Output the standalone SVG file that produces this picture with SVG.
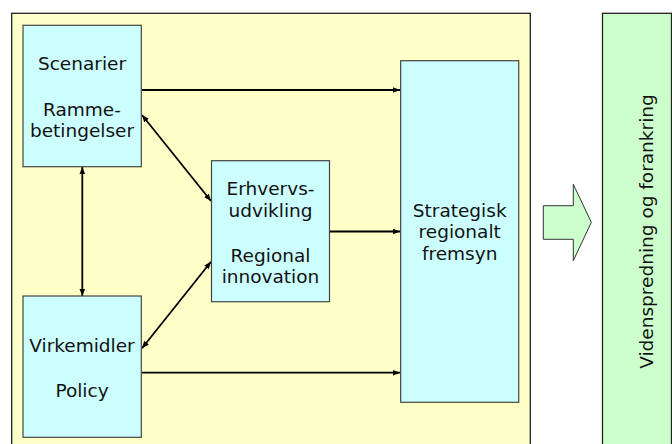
<svg xmlns="http://www.w3.org/2000/svg" width="672" height="444" viewBox="0 0 672 444">
<style>
.panel{stroke:#222;stroke-width:1.3}
.box{fill:#CCFFFF;stroke:#444;stroke-width:1.2}
.t{font-family:"DejaVu Sans",Verdana,sans-serif;font-size:18.5px;fill:#111;text-anchor:middle}
.c{fill:none;stroke:#000;stroke-width:1.8}
</style>
<defs>
<marker id="ah" viewBox="0 0 10 10" refX="10" refY="5" markerWidth="4" markerHeight="4" orient="auto-start-reverse" markerUnits="strokeWidth">
<path d="M0,1 L10,5 L0,9 Z" fill="#000"/>
</marker>
</defs>
<rect width="672" height="444" fill="#fff"/>
<g id="panel-left"><rect class="panel" x="11.7" y="13.3" width="518.6" height="440" fill="#FFFFC8"/></g>
<g id="panel-right"><rect class="panel" x="602.5" y="13.3" width="69" height="440" fill="#CCFFCC"/>
<text class="t" transform="translate(652.5,231.5) rotate(-90)">Videnspredning og forankring</text></g>
<g id="block-arrow"><polygon points="543.3,205.7 573.3,205.7 573.3,184.3 591.3,222.3 573.3,260.7 573.3,239.3 543.3,239.3" fill="#CCFFCC" stroke="#333" stroke-width="1"/></g>
<g id="connectors">
<line class="c" x1="141.5" y1="90" x2="400" y2="90" marker-end="url(#ah)"/>
<line class="c" x1="329.7" y1="231.5" x2="400" y2="231.5" marker-end="url(#ah)"/>
<line class="c" x1="141.5" y1="372.7" x2="400" y2="372.7" marker-end="url(#ah)"/>
<line class="c" x1="82.3" y1="167" x2="82.3" y2="296" marker-start="url(#ah)" marker-end="url(#ah)"/>
<line class="c" x1="142" y1="115" x2="211" y2="201" marker-start="url(#ah)" marker-end="url(#ah)"/>
<line class="c" x1="142" y1="348.3" x2="211" y2="261.7" marker-start="url(#ah)" marker-end="url(#ah)"/>
</g>
<g id="n-scenarier"><rect class="box" x="23" y="25.3" width="118.3" height="141.4"/>
<text class="t" x="82" y="70">Scenarier</text>
<text class="t" x="82" y="115.5">Ramme-</text>
<text class="t" x="82" y="136.5">betingelser</text></g>
<g id="n-virkemidler"><rect class="box" x="23" y="296" width="118.3" height="141.3"/>
<text class="t" x="82" y="351.5">Virkemidler</text>
<text class="t" x="82" y="396.5">Policy</text></g>
<g id="n-erhvervs"><rect class="box" x="211.5" y="160.7" width="118" height="141"/>
<text class="t" x="270.5" y="194.5">Erhvervs-</text>
<text class="t" x="270.5" y="216.5">udvikling</text>
<text class="t" x="270.5" y="261.5">Regional</text>
<text class="t" x="270.5" y="283.3">innovation</text></g>
<g id="n-strategisk"><rect class="box" x="400.7" y="60.7" width="118" height="341.6"/>
<text class="t" x="459.7" y="216.7">Strategisk</text>
<text class="t" x="459.7" y="238.3">regionalt</text>
<text class="t" x="459.7" y="260">fremsyn</text></g>
</svg>
